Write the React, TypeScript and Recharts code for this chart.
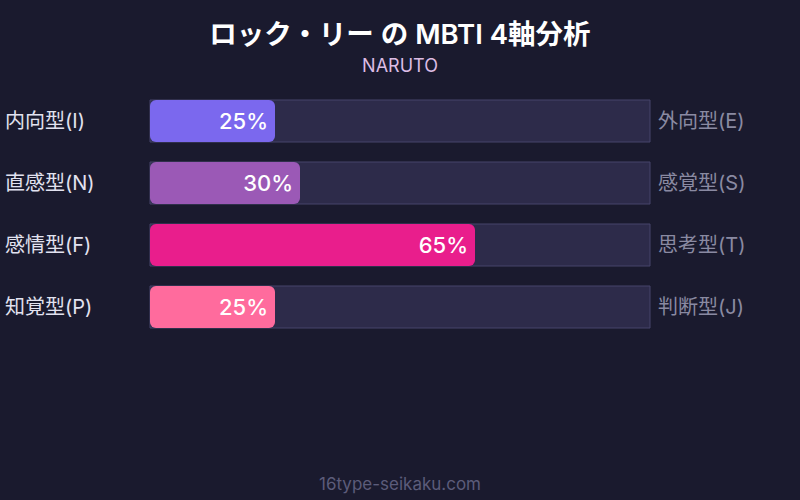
import React from 'react';
import { BarChart, Bar, XAxis, YAxis, Cell, LabelList } from 'recharts';

const leftLabels = ['内向型(I)', '直感型(N)', '感情型(F)', '知覚型(P)'];
const rightLabels = ['外向型(E)', '感覚型(S)', '思考型(T)', '判断型(J)'];
const values = [25, 30, 65, 25];
const colors = ['#7b68ee', '#9b59b6', '#e91e8c', '#ff6b9d'];

const data = leftLabels.map((l, i) => ({ left: l, right: rightLabels[i], value: values[i] }));

const FONT = "Inter, 'Noto Sans CJK JP', sans-serif";

const LeftTick = (props: any) => {
  const { y, payload } = props;
  return (
    <text x={5} y={y} dy={7} textAnchor="start" fill="#e2e2f0" fontSize={20} fontFamily={FONT}>
      {payload.value}
    </text>
  );
};

const RightTick = (props: any) => {
  const { x, y, index } = props;
  return (
    <text x={x} y={y} dy={7} textAnchor="start" fill="#8a8aa2" fontSize={20} fontFamily={FONT}>
      {rightLabels[index]}
    </text>
  );
};

export default function App() {
  return (
    <div style={{ position: 'absolute', left: 0, top: 0, width: 800, height: 500, background: '#1a1a2e', fontFamily: FONT, overflow: 'hidden' }}>
      <div style={{ position: 'absolute', top: 15, width: 800, textAlign: 'center', color: '#ffffff', fontSize: 27.5, fontWeight: 600, lineHeight: '38px' }}>
        ロック・リー の MBTI 4軸分析
      </div>
      <div style={{ position: 'absolute', top: 54, width: 800, textAlign: 'center', color: '#dcbce4', fontSize: 18, lineHeight: '24px' }}>
        NARUTO
      </div>
      <div style={{ position: 'absolute', top: 0, left: 0 }}>
        <BarChart
          width={800}
          height={500}
          data={data}
          layout="vertical"
          margin={{ top: 90, right: 0, bottom: 162, left: 0 }}
          barSize={42}
        >
          <XAxis type="number" domain={[0, 100]} hide />
          <YAxis yAxisId="l" type="category" dataKey="left" width={150} axisLine={false} tickLine={false} tick={<LeftTick />} />
          <YAxis yAxisId="r" type="category" dataKey="right" orientation="right" width={150} axisLine={false} tickLine={false} tick={<RightTick />} />
          <Bar
            yAxisId="l"
            dataKey="value"
            isAnimationActive={false}
            radius={6}
            background={{ fill: '#2d2b4a', stroke: '#46446a', strokeWidth: 1 }}
          >
            {data.map((d, i) => (
              <Cell key={i} fill={colors[i]} />
            ))}
            <LabelList
              dataKey="value"
              position="insideRight"
              offset={7}
              formatter={(v: any) => `${v}%`}
              fill="#ffffff"
              fontSize={22}
              fontWeight={500}
              fontFamily={FONT}
            />
          </Bar>
        </BarChart>
      </div>
      <div style={{ position: 'absolute', top: 473, width: 800, textAlign: 'center', color: '#5c5c7a', fontSize: 17, lineHeight: '22px' }}>
        16type-seikaku.com
      </div>
    </div>
  );
}
